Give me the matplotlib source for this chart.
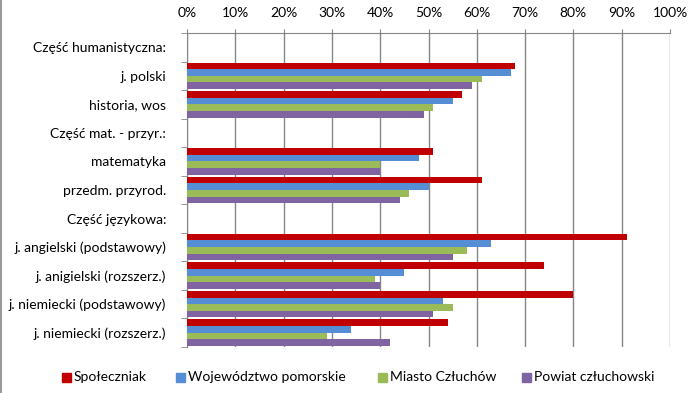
import matplotlib
matplotlib.use("Agg")
import matplotlib.pyplot as plt
from matplotlib.lines import Line2D
from matplotlib.patches import Rectangle
import numpy as np

plt.rcParams['font.family'] = ['Lato', 'DejaVu Sans']

categories = ["Część humanistyczna:", "j. polski", "historia, wos",
              "Część mat. - przyr.:", "matematyka", "przedm. przyrod.",
              "Część językowa:", "j. angielski (podstawowy)", "j. anigielski (rozszerz.)",
              "j. niemiecki (podstawowy)", "j. niemiecki (rozszerz.)"]
series_names = ["Społeczniak", "Województwo pomorskie", "Miasto Człuchów", "Powiat człuchowski"]
# None = header row without bars
spoleczniak = [None, 68, 57, None, 51, 61, None, 91, 74, 80, 54]
wojewodztwo = [None, 67, 55, None, 48, 50, None, 63, 45, 53, 34]
miasto =      [None, 61, 51, None, 40, 46, None, 58, 39, 55, 29]
powiat =      [None, 59, 49, None, 40, 44, None, 55, 40, 51, 42]
colors = ["#C00000", "#558ED5", "#9BBB59", "#8064A2"]
xticks = list(range(0, 101, 10))
xticklabels = [f"{v}%" for v in xticks]

FS = 10.0
fig = plt.figure(figsize=(6.93, 3.93), dpi=100)
ax = fig.add_axes([187/693, 1-347/393, (670-187)/693, (347-33)/393])

n = len(categories)
bh = 0.232
all_series = [spoleczniak, wojewodztwo, miasto, powiat]
for si, (vals, col, name) in enumerate(zip(all_series, colors, series_names)):
    ys, ws = [], []
    for ci, v in enumerate(vals):
        if v is None:
            continue
        ys.append(ci - 1.5*bh + si*bh)
        ws.append(v)
    ax.barh(ys, ws, height=bh, color=col, label=name, zorder=3, linewidth=0)

ax.set_xlim(0, 100)
ax.set_ylim(n - 0.5, -0.5)
ax.set_xticks(xticks)
ax.set_xticklabels(xticklabels, fontsize=FS)
ax.xaxis.tick_top()
ax.tick_params(axis='x', length=3, color='#868686', pad=7)
ax.grid(axis='x', color='#868686', linewidth=1, zorder=0)

ax.set_yticks(np.arange(n))
ax.set_yticklabels(categories, fontsize=FS)
ax.tick_params(axis='y', length=0, pad=15)
ax.set_yticks(np.arange(-0.5, n, 1), minor=True)
ax.tick_params(axis='y', which='minor', length=4, color='#868686')

for s in ['right', 'bottom']:
    ax.spines[s].set_visible(False)
for s in ['left', 'top']:
    ax.spines[s].set_color('#868686')

# legend entries placed individually
leg_x = [62, 176, 378, 522]
leg_y = 377
sq = 9
for x, c, name in zip(leg_x, colors, series_names):
    fig.add_artist(Rectangle((x/693, 1-(leg_y+sq/2)/393), sq/693, sq/393,
                             color=c, transform=fig.transFigure))
    fig.text((x+sq+3)/693, 1-leg_y/393, name, fontsize=FS, va='center', ha='left')

fig.add_artist(Line2D([1/693, 1/693], [0, 1], color='#868686', linewidth=1.2, transform=fig.transFigure))

fig.savefig("out.png", dpi=100)
